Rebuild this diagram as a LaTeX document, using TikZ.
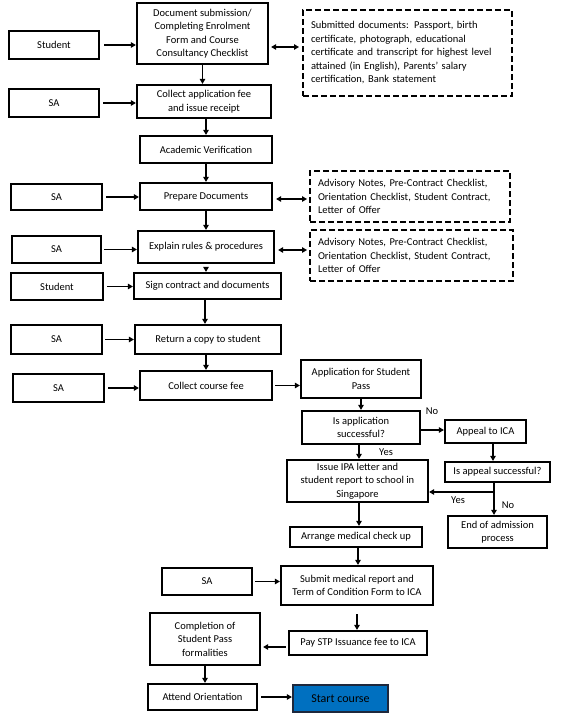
\documentclass[tikz,border=0pt]{standalone}
\usepackage{fontspec}
\setmainfont{Carlito}
\usetikzlibrary{arrows.meta}
\begin{document}
\begin{tikzpicture}[x=1pt,y=-1pt,
  box/.style={draw=black, line width=2.2pt, fill=white, inner sep=1pt, align=center,
    font=\fontsize{10.5pt}{13.5pt}\selectfont},
  dbox/.style={draw=black, line width=2pt, dash pattern=on 6pt off 3pt, inner xsep=8pt, inner ysep=1pt,
    align=left, font=\fontsize{10.5pt}{13.5pt}\selectfont},
  arr/.style={line width=1.8pt, -{Triangle[length=5pt,width=5.5pt]}},
  thinarr/.style={line width=1.1pt, -{Triangle[length=5pt,width=5.5pt]}},
  darr/.style={line width=1.8pt, {Triangle[length=5pt,width=5.5pt]}-{Triangle[length=5pt,width=5.5pt]}},
  lbl/.style={font=\fontsize{10.5pt}{13.5pt}\selectfont, inner sep=0pt}]
\useasboundingbox (0,0) rectangle (561,715);
\fill[white] (0,0) rectangle (561,715);

% nodes
\node[box, minimum width=90pt, minimum height=28pt] (s1) at (54,45) {Student};
\node[box, minimum width=131pt, minimum height=61pt] (doc) at (202.5,33.5) {Document submission/\\Completing Enrolment\\Form and Course\\Consultancy Checklist};
\node[dbox, text width=193pt, minimum height=86pt] (dash1) at (407.5,53) {Submitted documents: Passport, birth\\certificate, photograph, educational\\certificate and transcript for highest level\\attained (in English), Parents’ salary\\certification, Bank statement};
\node[box, minimum width=90pt, minimum height=28pt] (sa1) at (54,103) {SA};
\node[box, minimum width=134pt, minimum height=33pt] (colapp) at (204,101.5) {Collect application fee\\and issue receipt};
\node[box, minimum width=132pt, minimum height=27pt] (acad) at (206,149.5) {Academic Verification};
\node[box, minimum width=91pt, minimum height=26pt] (sa2) at (56.5,197) {SA};
\node[box, minimum width=132pt, minimum height=27pt] (prep) at (206,196.5) {Prepare Documents};
\node[dbox, text width=184pt, minimum height=51pt] (dash2) at (410,196.5) {Advisory Notes, Pre-Contract Checklist,\\Orientation Checklist, Student Contract,\\Letter of Offer};
\node[box, minimum width=89pt, minimum height=27pt] (sa3) at (56.5,249.5) {SA};
\node[box, minimum width=136pt, minimum height=32pt] (explain) at (206,247) {Explain rules \& procedures};
\node[dbox, text width=187pt, minimum height=51pt] (dash3) at (411.5,255.5) {Advisory Notes, Pre-Contract Checklist,\\Orientation Checklist, Student Contract,\\Letter of Offer};
\node[box, minimum width=92pt, minimum height=27pt] (s2) at (57,286.5) {Student};
\node[box, minimum width=147pt, minimum height=26pt] (sign) at (207.5,286) {Sign contract and documents};
\node[box, minimum width=91pt, minimum height=29pt] (sa4) at (56.5,339.5) {SA};
\node[box, minimum width=146pt, minimum height=29pt] (ret) at (208,339.5) {Return a copy to student};
\node[box, minimum width=91pt, minimum height=28pt] (sa5) at (58.5,388) {SA};
\node[box, minimum width=132pt, minimum height=29pt] (colcourse) at (206,385.5) {Collect course fee};
\node[box, minimum width=120pt, minimum height=38pt] (app) at (361,379) {Application for Student\\Pass};
\node[box, minimum width=118pt, minimum height=33pt] (isapp) at (361,427.5) {Is application\\successful?};
\node[box, minimum width=81pt, minimum height=23pt] (appeal) at (485.5,431.5) {Appeal to ICA};
\node[box, minimum width=105pt, minimum height=20pt] (isappeal) at (497.5,472) {Is appeal successful?};
\node[box, minimum width=141pt, minimum height=42pt] (issue) at (357.5,481) {Issue IPA letter and\\student report to school in\\Singapore};
\node[box, minimum width=99pt, minimum height=32pt] (end) at (497.5,532) {End of admission\\process};
\node[box, minimum width=132pt, minimum height=20pt] (arrange) at (356,537) {Arrange medical check up};
\node[box, minimum width=90pt, minimum height=27pt] (sa6) at (207,581.5) {SA};
\node[box, minimum width=152pt, minimum height=39pt] (submit) at (357,585.5) {Submit medical report and\\Term of Condition Form to ICA};
\node[box, minimum width=138pt, minimum height=24pt] (pay) at (358,643) {Pay STP Issuance fee to ICA};
\node[box, minimum width=110pt, minimum height=52pt] (compl) at (205,639) {Completion of\\Student Pass\\formalities};
\node[box, minimum width=109pt, minimum height=26pt] (attend) at (202.5,697) {Attend Orientation};
\node[box, fill={rgb,255:red,0;green,112;blue,192}, draw={rgb,255:red,30;green,40;blue,60}, minimum width=95pt, minimum height=27pt,
  font=\fontsize{12pt}{14pt}\selectfont] (start) at (340.5,698.5) {Start course};

% connectors
\draw[arr, shorten <=4pt] (s1.east) -- (s1.east -| doc.west);
\draw[darr, shorten <=2pt, shorten >=3pt] (doc.east |- 0,47) -- (dash1.west |- 0,47);
\draw[arr] (doc.south) -- (doc.south |- colapp.north);
\draw[arr, shorten <=3pt] (sa1.east) -- (sa1.east -| colapp.west);
\draw[arr] (acad.north |- colapp.south) -- (acad.north);
\draw[arr] (acad.south) -- (prep.north);
\draw[arr, shorten <=3pt] (sa2.east) -- (sa2.east -| prep.west);
\draw[darr, shorten <=3pt, shorten >=2pt] (prep.east |- 0,199) -- (dash2.west |- 0,199);
\draw[arr] (prep.south) -- (prep.south |- explain.north);
\draw[arr, shorten <=2pt] (sa3.east) -- (sa3.east -| explain.west);
\draw[darr, shorten <=3pt, shorten >=2pt] (explain.east |- 0,250) -- (dash3.west |- 0,250);
\draw[arr, shorten <=3pt] (explain.south) -- (explain.south |- sign.north);
\draw[arr, shorten <=3pt] (s2.east) -- (s2.east -| sign.west);
\draw[arr] (sign.south -| 205,0) -- (ret.north -| 205,0);
\draw[arr, shorten <=2pt] (sa4.east) -- (sa4.east -| ret.west);
\draw[arr] (colcourse.north |- ret.south) -- (colcourse.north);
\draw[arr, shorten <=3pt] (sa5.east) -- (sa5.east -| colcourse.west);
\draw[arr, shorten <=2pt] (colcourse.east) -- (colcourse.east -| app.west);
\draw[arr] (app.south) -- (app.south |- isapp.north);
\draw[thinarr] (isapp.east |- 0,430) -- (appeal.west |- 0,430);
\node[lbl] (no1) at (432,411) {No};
\draw[arr] (493,0 |- appeal.south) -- (493,0 |- isappeal.north);
\draw[arr] (isapp.south -| 359,0) -- (issue.north -| 359,0);
\node[lbl] (yes1) at (386,452) {Yes};
\coordinate (j) at (494,492);
\draw[arr] (494,0 |- isappeal.south) -- (494,0 |- end.north);
\draw[thinarr] (j) -- (j -| issue.east);
\node[lbl] (yes2) at (458,500) {Yes};
\node[lbl] (no2) at (508,505) {No};
\draw[arr] (issue.south -| 359,0) -- (arrange.north -| 359,0);
\draw[arr] (arrange.south -| 358,0) -- (submit.north -| 358,0);
\draw[arr, shorten <=2pt] (sa6.east) -- (sa6.east -| submit.west);
\draw[arr, shorten <=8pt] (submit.south) -- (submit.south |- pay.north);
\draw[arr, shorten <=2pt, shorten >=2pt] (pay.west |- 0,647) -- (compl.east |- 0,647);
\draw[arr] (compl.south) -- (compl.south |- attend.north);
\draw[arr, shorten <=3pt] (attend.east) -- (attend.east -| start.west);
\end{tikzpicture}
\end{document}
